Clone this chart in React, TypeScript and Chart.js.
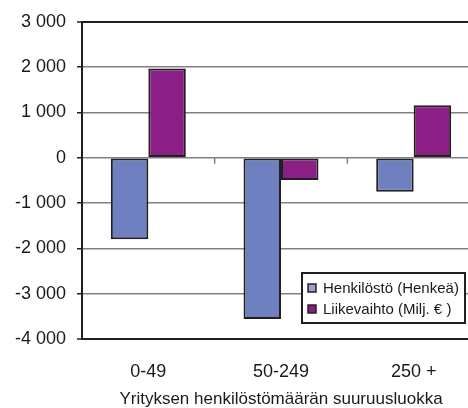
import React, { useEffect, useRef } from "react";
import { Chart, registerables } from "chart.js";

Chart.register(...registerables);

const CATEGORIES = ["0-49", "50-249", "250 +"];
const HENKILOSTO = [-1800, -3560, -750];
const LIIKEVAIHTO = [1970, -490, 1160];
const SERIES_LABELS = ["Henkilöstö (Henkeä)", "Liikevaihto (Milj. € )"];
const X_TITLE = "Yrityksen henkilöstömäärän suuruusluokka";
const Y_MIN = -4000;
const Y_MAX = 3000;
const Y_STEP = 1000;

const FONT = "'Liberation Sans', Arial, Helvetica, sans-serif";
const BAR_COLORS = ["#6F80C0", "#8A2085"];
const SWATCH_COLORS = ["#9E9ED6", "#8A1A88"];
const DARK = "#231F20";
const GRID = "#808080";
const TEXT = "#1a1a1a";

const fmt = (v: number) => {
  const s = Math.abs(v).toString().replace(/\B(?=(\d{3})+(?!\d))/g, " ");
  return (v < 0 ? "-" : "") + s;
};

const zeroTicks = {
  id: "zeroTicks",
  afterDatasetsDraw(chart: any) {
    const { ctx, scales } = chart;
    const x = scales.x;
    const y0 = scales.y.getPixelForValue(0);
    ctx.save();
    ctx.strokeStyle = GRID;
    ctx.lineWidth = 1.5;
    for (let i = 0; i < CATEGORIES.length - 1; i++) {
      const px = (x.getPixelForValue(i) + x.getPixelForValue(i + 1)) / 2;
      ctx.beginPath();
      ctx.moveTo(px, y0);
      ctx.lineTo(px, y0 + 6);
      ctx.stroke();
    }
    ctx.restore();
  },
};

const boxLegend = {
  id: "boxLegend",
  afterDraw(chart: any) {
    const { ctx, chartArea } = chart;
    const x0 = chartArea.right - 178;
    const y0 = chartArea.bottom - 66;
    const w = 163;
    const h = 50;
    ctx.save();
    ctx.fillStyle = "#ffffff";
    ctx.fillRect(x0, y0, w, h);
    ctx.strokeStyle = DARK;
    ctx.lineWidth = 2;
    ctx.strokeRect(x0, y0, w, h);
    ctx.font = `15px ${FONT}`;
    ctx.textBaseline = "middle";
    ctx.textAlign = "left";
    chart.data.datasets.forEach((ds: any, i: number) => {
      const cy = y0 + 15 + i * 21;
      ctx.fillStyle = SWATCH_COLORS[i];
      ctx.fillRect(x0 + 6, cy - 4, 8, 8);
      ctx.lineWidth = 1.5;
      ctx.strokeStyle = DARK;
      ctx.strokeRect(x0 + 6, cy - 4, 8, 8);
      ctx.fillStyle = TEXT;
      ctx.fillText(ds.label, x0 + 21, cy + 1);
    });
    ctx.restore();
  },
};

export default function App() {
  const ref = useRef<HTMLCanvasElement>(null);

  useEffect(() => {
    if (!ref.current) return;
    const chart = new Chart(ref.current, {
      type: "bar",
      data: {
        labels: CATEGORIES,
        datasets: [
          {
            label: SERIES_LABELS[0],
            data: HENKILOSTO,
            backgroundColor: BAR_COLORS[0],
            borderColor: DARK,
            borderWidth: 2,
            borderSkipped: false,
          },
          {
            label: SERIES_LABELS[1],
            data: LIIKEVAIHTO,
            backgroundColor: BAR_COLORS[1],
            borderColor: DARK,
            borderWidth: 2,
            borderSkipped: false,
          },
        ],
      },
      options: {
        responsive: false,
        animation: false,
        devicePixelRatio: 1,
        layout: { padding: { top: 19, right: 20, left: 0, bottom: 0 } },
        datasets: {
          bar: { categoryPercentage: 0.565, barPercentage: 1 },
        },
        plugins: {
          legend: { display: false },
          tooltip: { enabled: false },
        },
        scales: {
          x: {
            grid: { display: false, drawTicks: false },
            border: { display: true, color: DARK, width: 2 },
            ticks: {
              padding: 22,
              color: TEXT,
              font: { family: FONT, size: 18 },
            },
            title: {
              display: true,
              text: X_TITLE,
              color: TEXT,
              font: { family: FONT, size: 17 },
              padding: { top: 0, bottom: -2 },
            },
            afterFit(scale: any) {
              scale.height = 69;
            },
          },
          y: {
            min: Y_MIN,
            max: Y_MAX,
            ticks: {
              stepSize: Y_STEP,
              padding: 11,
              color: TEXT,
              font: { family: FONT, size: 18 },
              callback: (v: any) => fmt(Number(v)),
            },
            grid: {
              color: (c: any) =>
                c.tick && (c.tick.value === Y_MAX || c.tick.value === Y_MIN) ? DARK : GRID,
              lineWidth: (c: any) =>
                c.tick && (c.tick.value === Y_MAX || c.tick.value === Y_MIN) ? 2 : 1.5,
              tickColor: DARK,
              tickLength: 5,
              tickWidth: 1.5,
            },
            border: { display: true, color: DARK, width: 2 },
            afterFit(scale: any) {
              scale.width = 82;
            },
          },
        },
      },
      plugins: [zeroTicks, boxLegend],
    });
    return () => chart.destroy();
  }, []);

  return (
    <div
      style={{
        position: "fixed",
        left: 0,
        top: 0,
        width: 468,
        height: 408,
        overflow: "hidden",
        background: "#ffffff",
      }}
    >
      <canvas
        ref={ref}
        width={500}
        height={408}
        style={{ display: "block", width: 500, height: 408 }}
      />
    </div>
  );
}
